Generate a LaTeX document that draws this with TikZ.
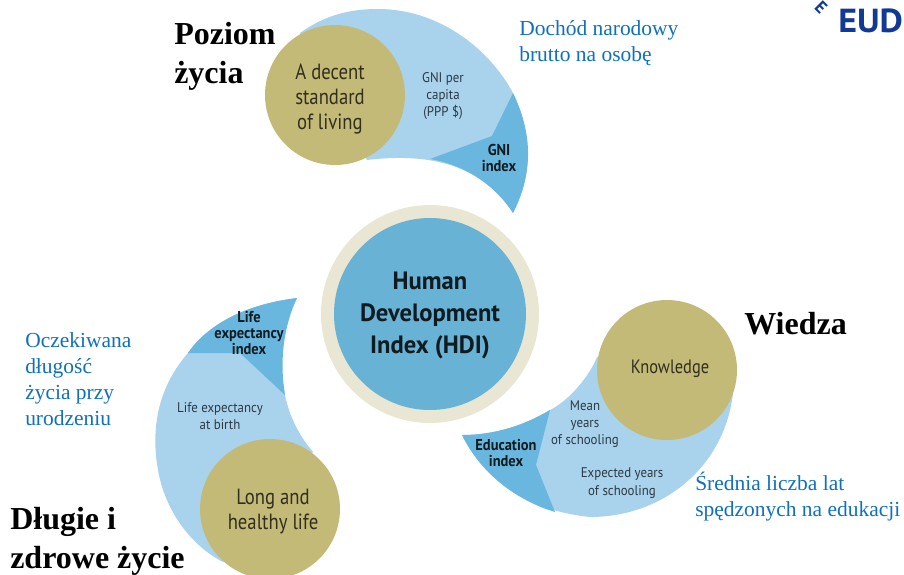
\documentclass[tikz,border=0pt]{standalone}
\usepackage{fontspec}
\setmainfont{Liberation Serif}
\setsansfont{PT Sans}
\definecolor{petal}{HTML}{A9D2EC}
\definecolor{petaldark}{HTML}{69B7DF}
\definecolor{gold}{HTML}{C4BA78}
\definecolor{hub}{HTML}{68B2D6}
\definecolor{ringc}{HTML}{E9E6D3}
\definecolor{notec}{HTML}{0F70BE}
\definecolor{inkc}{HTML}{2C3A44}
\definecolor{logoc}{HTML}{123A94}
\tikzset{
  petalshape/.style={fill=petal,draw=none},
  darkshape/.style={fill=petaldark,draw=none},
  goldcircle/.style={circle,fill=gold,draw=none,minimum size=140*0.75pt,inner sep=0pt},
  goldtext/.style={font=\sffamily\fontsize{16.5}{18.75}\selectfont,text=black!75!gold,align=center,xscale=0.85},
  smalltext/.style={font=\sffamily\fontsize{10.5}{13}\selectfont,text=inkc,align=center,xscale=0.92},
  indextext/.style={font=\sffamily\bfseries\fontsize{11.8}{12}\selectfont,text=black!85!hub,align=center,xscale=0.92},
  notetext/.style={font=\fontsize{16.1}{19.5}\selectfont,text=notec,align=left,anchor=north west,inner sep=0pt},
  headtext/.style={font=\bfseries\fontsize{24}{29}\selectfont,text=black,align=left,anchor=north west,inner sep=0pt},
}
\begin{document}
\begin{tikzpicture}[x=0.75pt,y=-0.75pt]
\useasboundingbox (0,0) rectangle (904,575);
% top petal
\path[petalshape] (300,33) .. controls (325,15) and (350,9) .. (378,9)
  .. controls (440,9) and (490,50) .. (513,93)
  .. controls (530,130) and (535,170) .. (513,213)
  .. controls (490,178) and (450,150) .. (367,160) -- cycle;
\path[darkshape] (513,93) .. controls (531,130) and (535,170) .. (513,213)
  .. controls (495,185) and (465,165) .. (430,159) -- (492,136) -- cycle;
% left petal
\path[petalshape] (297,298) .. controls (240,305) and (205,328) .. (188,353)
  .. controls (160,385) and (150,425) .. (158,470)
  .. controls (165,510) and (190,545) .. (223,562) -- (313,452)
  .. controls (290,425) and (282,395) .. (282,365)
  .. controls (280,340) and (285,320) .. (297,298) -- cycle;
\path[darkshape] (297,298) .. controls (240,305) and (205,328) .. (188,353)
  -- (240,353) -- (285,395) .. controls (280,365) and (282,330) .. (297,298) -- cycle;
% right petal
\path[petalshape] (462,435) .. controls (485,480) and (525,510) .. (590,517)
  .. controls (665,517) and (725,465) .. (733,393) -- (597,357)
  .. controls (590,375) and (570,400) .. (550,410)
  .. controls (525,425) and (495,435) .. (462,435) -- cycle;
\path[darkshape] (462,435) .. controls (480,472) and (515,500) .. (555,512)
  -- (536,465) -- (550,410) .. controls (525,425) and (495,435) .. (462,435) -- cycle;
% hub
\node[circle,fill=ringc,minimum size=218*0.75pt,inner sep=0pt] (ring) at (430,314) {};
\node[circle,fill=hub,minimum size=192*0.75pt,inner sep=0pt] (hub) at (430,314) {};
\node[font=\sffamily\bfseries\fontsize{18.8}{24}\selectfont,text=black!85!hub,align=center,xscale=0.98] (hubtext) at (430,315) {Human\\Development\\Index (HDI)};
% gold circles
\node[goldcircle] (g1) at (335,95) {};
\node[goldtext] (t1) at (330,99) {A decent\\standard\\of living};
\node[goldcircle] (g2) at (270,509) {};
\node[goldtext] (t2) at (273,512) {Long and\\healthy life};
\node[goldcircle] (g3) at (667,370) {};
\node[goldtext,font=\sffamily\fontsize{14.5}{18}\selectfont,xscale=1] (t3) at (670,369) {Knowledge};
% labels
\node[smalltext] (a1) at (443,96) {GNI per\\capita\\(PPP \$)};
\node[indextext] (a2) at (499,158) {GNI\\index};
\node[indextext] (a3) at (249,333) {Life\\expectancy\\index};
\node[smalltext] (a4) at (220,416) {Life expectancy\\at birth};
\node[smalltext] (a5) at (585,424) {Mean\\years\\of schooling};
\node[smalltext] (a6) at (622,483) {Expected years\\of schooling};
\node[indextext] (a7) at (506,453) {Education\\index};
% notes
\node[notetext] (n1) at (519,20) {Dochód narodowy\\brutto na osobę};
\node[notetext] (n2) at (25,332) {Oczekiwana\\długość\\życia przy\\urodzeniu};
\node[notetext] (n3) at (695,472) {Średnia liczba lat\\spędzonych na edukacji};
% headings
\node[headtext] (h1) at (174,22) {Poziom\\życia};
\node[headtext] (h2) at (744,312) {Wiedza};
\node[headtext] (h3) at (10,507) {Długie i\\zdrowe życie};
% logo
\node[font=\sffamily\bfseries\fontsize{25}{25}\selectfont,text=logoc,anchor=west,inner sep=0pt,xscale=1.08] (l1) at (838,21) {EUD};
\node[font=\sffamily\bfseries\fontsize{13}{13}\selectfont,text=logoc,rotate=-45,inner sep=0pt] (l2) at (821,7) {E};
\end{tikzpicture}
\end{document}
